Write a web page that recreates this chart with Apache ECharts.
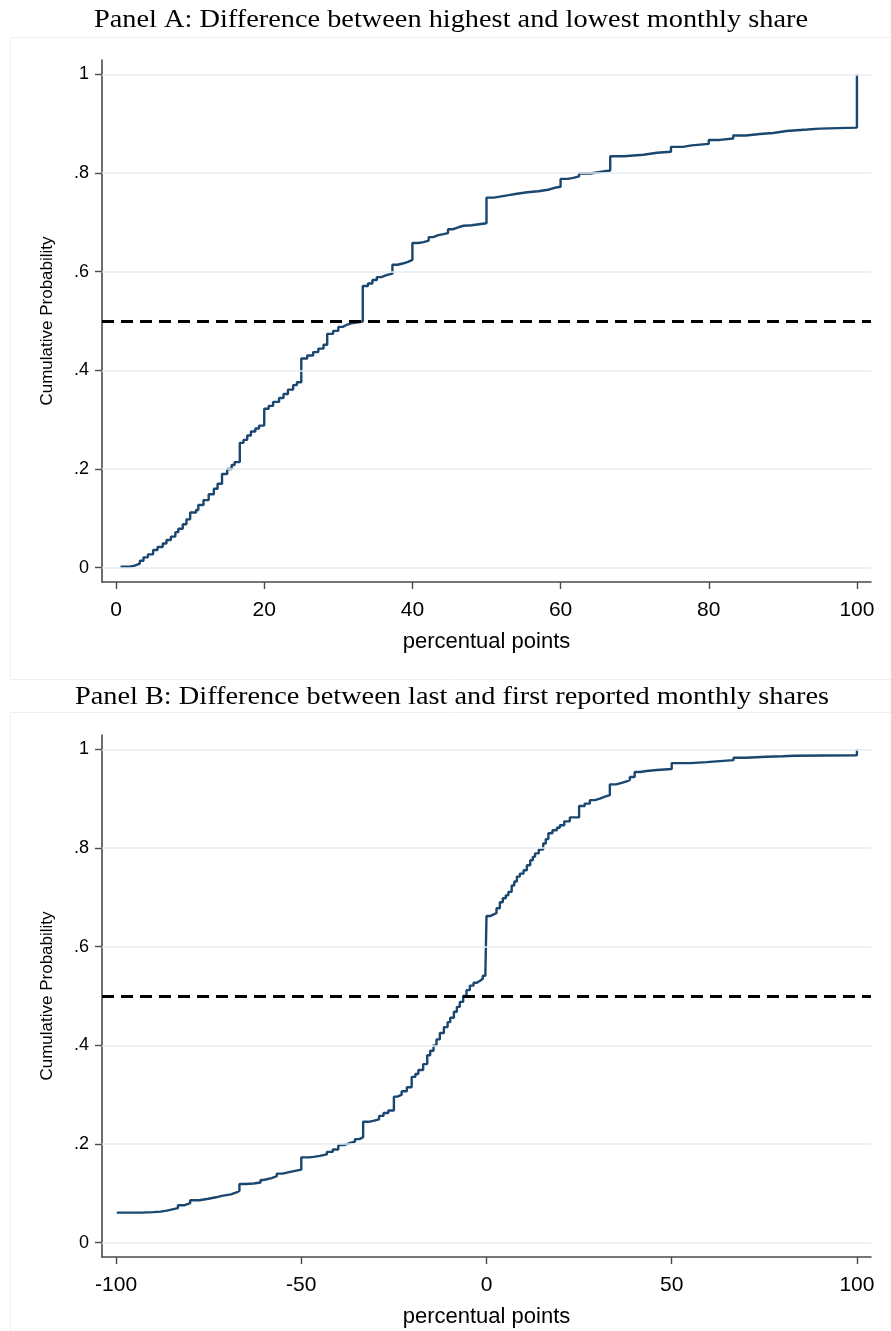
<!DOCTYPE html>
<html>
<head>
<meta charset="utf-8">
<script src="https://cdn.jsdelivr.net/npm/echarts@6/dist/echarts.min.js"></script>
<style>
  html, body { margin: 0; padding: 0; background: #ffffff; }
  #chart { width: 891px; height: 1331px; }
</style>
</head>
<body>
<div id="chart"></div>
<script>
// Panel A: empirical CDF of (highest - lowest) monthly share, jump points and cumulative probability after each jump
const panelAX = [0.6, 1.8, 2.5, 3.2, 3.7, 4.3, 5.0, 5.6, 6.3, 6.8, 7.4, 8.0, 8.4, 9.0, 9.5, 10.0, 10.8, 11.1, 11.8, 12.5,
  13.2, 13.7, 14.3, 15.0, 15.6, 16.0, 16.7, 17.2, 17.7, 18.2, 18.8, 19.3, 20.0, 20.6, 21.2, 22.0, 22.6, 23.2, 23.9, 24.4,
  25.0, 25.8, 26.6, 27.3, 28.0, 28.5, 29.3, 30.0, 30.6, 31.1, 32.0, 33.3, 34.0, 34.6, 35.2, 35.8, 36.5, 37.3, 38.0, 38.8,
  39.4, 40.0, 40.8, 41.5, 42.2, 42.8, 43.5, 44.2, 44.8, 45.5, 46.2, 46.9, 48.0, 49.0, 50.0, 51.0, 51.8, 53.0, 54.1, 55.5,
  57.0, 58.3, 59.2, 60.0, 61.0, 61.7, 62.5, 64.0, 65.3, 66.7, 68.5, 71.2, 73.0, 74.9, 76.5, 77.7, 80.0, 81.5, 83.3, 85.0,
  86.9, 88.7, 90.5, 91.4, 93.3, 95.0, 100.0];
const panelAProb = [0.002, 0.004, 0.008, 0.014, 0.021, 0.027, 0.036, 0.042, 0.049, 0.056, 0.063, 0.072, 0.079, 0.088, 0.098, 0.112, 0.117, 0.127, 0.137, 0.149,
  0.160, 0.170, 0.190, 0.200, 0.208, 0.214, 0.253, 0.259, 0.268, 0.276, 0.282, 0.288, 0.322, 0.328, 0.336, 0.344, 0.352, 0.361, 0.370, 0.376,
  0.424, 0.430, 0.437, 0.444, 0.452, 0.474, 0.480, 0.488, 0.492, 0.496, 0.499, 0.571, 0.576, 0.583, 0.589, 0.593, 0.596, 0.614, 0.617, 0.620,
  0.624, 0.658, 0.660, 0.663, 0.670, 0.674, 0.676, 0.678, 0.686, 0.690, 0.693, 0.694, 0.696, 0.698, 0.750, 0.752, 0.755, 0.758, 0.761, 0.763,
  0.766, 0.770, 0.772, 0.788, 0.790, 0.793, 0.799, 0.802, 0.805, 0.834, 0.837, 0.841, 0.843, 0.853, 0.856, 0.859, 0.867, 0.870, 0.876, 0.879,
  0.881, 0.885, 0.886, 0.888, 0.890, 0.892, 1.000];

// Panel B: empirical CDF of (last - first) reported monthly share
const panelBX = [-99.8, -93.0, -90.0, -88.0, -86.3, -84.5, -83.3, -81.5, -80.0, -77.5, -75.1, -73.0, -71.5, -69.0, -67.5, -66.7, -65.0, -62.9, -61.0, -60.2,
  -58.0, -56.6, -55.0, -53.9, -52.0, -50.0, -48.0, -46.7, -45.0, -43.1, -41.5, -40.0, -38.5, -37.3, -35.5, -34.3, -33.3, -31.8, -30.6, -29.0,
  -27.8, -26.5, -25.0, -24.0, -22.9, -21.5, -20.2, -19.2, -18.4, -17.1, -16.0, -15.2, -14.3, -13.5, -12.6, -11.5, -10.5, -9.8, -8.8, -8.0,
  -7.2, -6.3, -5.4, -4.5, -3.5, -2.6, -1.75, -1.0, -0.3, 0.0, 1.0, 1.8, 2.7, 3.6, 4.4, 5.2, 5.9, 6.8, 7.5, 8.2,
  9.0, 10.0, 10.9, 11.8, 12.5, 13.1, 14.1, 15.3, 16.0, 16.7, 17.8, 19.0, 19.8, 21.0, 22.5, 25.0, 26.5, 27.9, 29.3, 30.6,
  32.0, 33.3, 35.0, 36.5, 37.8, 38.7, 40.0, 41.5, 43.2, 46.0, 48.0, 50.0, 55.0, 59.4, 63.0, 66.7, 70.0, 75.6, 80.0, 83.0, 100.0];
const panelBProb = [0.061, 0.062, 0.063, 0.065, 0.068, 0.070, 0.076, 0.080, 0.086, 0.089, 0.092, 0.095, 0.098, 0.102, 0.105, 0.119, 0.120, 0.122, 0.127, 0.131,
  0.135, 0.140, 0.142, 0.145, 0.148, 0.173, 0.174, 0.176, 0.179, 0.184, 0.189, 0.198, 0.201, 0.205, 0.210, 0.214, 0.245, 0.247, 0.250, 0.257,
  0.263, 0.268, 0.296, 0.300, 0.307, 0.315, 0.336, 0.342, 0.350, 0.362, 0.380, 0.389, 0.400, 0.412, 0.425, 0.437, 0.447, 0.456, 0.468, 0.478,
  0.488, 0.500, 0.512, 0.521, 0.527, 0.531, 0.535, 0.541, 0.546, 0.662, 0.665, 0.668, 0.678, 0.690, 0.698, 0.704, 0.711, 0.724, 0.732, 0.742,
  0.748, 0.755, 0.765, 0.775, 0.782, 0.789, 0.797, 0.809, 0.818, 0.830, 0.836, 0.841, 0.846, 0.854, 0.862, 0.885, 0.890, 0.897, 0.900, 0.904,
  0.907, 0.929, 0.932, 0.935, 0.938, 0.944, 0.954, 0.956, 0.958, 0.959, 0.960, 0.972, 0.974, 0.976, 0.978, 0.983, 0.985, 0.986, 0.987, 0.988, 1.000];

// Axis ticks and labels
const probTicks = [0, 0.2, 0.4, 0.6, 0.8, 1];
const probTickLabels = ['0', '.2', '.4', '.6', '.8', '1'];
const panelATicks = [0, 20, 40, 60, 80, 100];
const panelBTicks = [-100, -50, 0, 50, 100];
const medianLevel = 0.5;

const titles = [
  'Panel A: Difference between highest and lowest monthly share',
  'Panel B: Difference between last and first reported monthly shares'
];
const xAxisName = 'percentual points';
const yAxisName = 'Cumulative Probability';

const NAVY = '#1a476f';
const AXIS = '#4a4a4a';
const GRIDC = '#e4edf1';
const SANS = '"Liberation Sans", Arial, sans-serif';
const SERIF = '"Liberation Serif", "Times New Roman", serif';

function pairs(xs, ys) { return xs.map((x, i) => [x, ys[i]]); }

function xAxisFor(gridIndex, min, max, ticks) {
  return {
    type: 'value', gridIndex, min, max,
    name: xAxisName, nameLocation: 'middle', nameGap: 49,
    nameTextStyle: { fontFamily: SANS, fontSize: 22, color: '#000' },
    axisLine: { show: true, onZero: false, lineStyle: { color: AXIS, width: 1.6 } },
    axisTick: { show: true, length: 7, customValues: ticks, lineStyle: { color: AXIS, width: 1.4 } },
    axisLabel: { customValues: ticks, margin: 18, fontFamily: SANS, fontSize: 21, color: '#000',
      formatter: v => String(v) },
    splitLine: { show: false }
  };
}

function yAxisFor(gridIndex) {
  return {
    type: 'value', gridIndex, min: -0.029, max: 1.029,
    name: yAxisName, nameLocation: 'middle', nameGap: 46, nameRotate: 90,
    nameTextStyle: { fontFamily: SANS, fontSize: 17, color: '#000' },
    axisLine: { show: true, onZero: false, lineStyle: { color: AXIS, width: 1.6 } },
    axisTick: { show: true, length: 7, customValues: probTicks, lineStyle: { color: AXIS, width: 1.4 } },
    axisLabel: { customValues: probTicks, margin: 13, fontFamily: SANS, fontSize: 18, color: '#000',
      formatter: v => { const i = probTicks.findIndex(t => Math.abs(t - v) < 1e-9); return i >= 0 ? probTickLabels[i] : ''; } },
    splitLine: { show: false }
  };
}

function cdfSeries(idx, xs, ys) {
  return {
    type: 'line', xAxisIndex: idx, yAxisIndex: idx,
    data: pairs(xs, ys), step: 'end', showSymbol: false, symbol: 'none',
    lineStyle: { color: NAVY, width: 2.4 }, z: 3, animation: false,
    markLine: {
      silent: true, symbol: 'none', animation: false,
      label: { show: false },
      data: [{ yAxis: medianLevel, lineStyle: { color: '#000', width: 3, type: [12, 7] } }]
    }
  };
}

function gridLineSeries(idx) {
  return {
    type: 'line', xAxisIndex: idx, yAxisIndex: idx, data: [], z: 1, silent: true,
    markLine: {
      silent: true, symbol: 'none', animation: false, label: { show: false },
      lineStyle: { color: GRIDC, width: 1.5, type: 'solid' },
      data: probTicks.map(t => ({ yAxis: t }))
    }
  };
}

const chart = echarts.init(document.getElementById('chart'), null, { renderer: 'canvas' });
chart.setOption({
  backgroundColor: '#ffffff',
  animation: false,
  graphic: [
    { type: 'rect', shape: { x: 10.5, y: 37.5, width: 890, height: 642 }, style: { fill: 'none', stroke: '#eef1f2', lineWidth: 1 }, z: -10 },
    { type: 'rect', shape: { x: 10.5, y: 712.5, width: 890, height: 640 }, style: { fill: 'none', stroke: '#eef1f2', lineWidth: 1 }, z: -10 },
    { type: 'text', x: 451, y: 20, scaleX: 1.09, style: { text: titles[0], font: '26px ' + SERIF, fill: '#000', textAlign: 'center', textVerticalAlign: 'middle' } },
    { type: 'text', x: 452, y: 697, scaleX: 1.09, style: { text: titles[1], font: '26px ' + SERIF, fill: '#000', textAlign: 'center', textVerticalAlign: 'middle' } }
  ],
  grid: [
    { left: 102, top: 60, width: 769, height: 522 },
    { left: 102, top: 735, width: 769, height: 522 }
  ],
  xAxis: [xAxisFor(0, -1.9, 101.9, panelATicks), xAxisFor(1, -103.8, 103.8, panelBTicks)],
  yAxis: [yAxisFor(0), yAxisFor(1)],
  series: [
    gridLineSeries(0), gridLineSeries(1),
    cdfSeries(0, panelAX, panelAProb),
    cdfSeries(1, panelBX, panelBProb)
  ]
});
</script>
</body>
</html>
